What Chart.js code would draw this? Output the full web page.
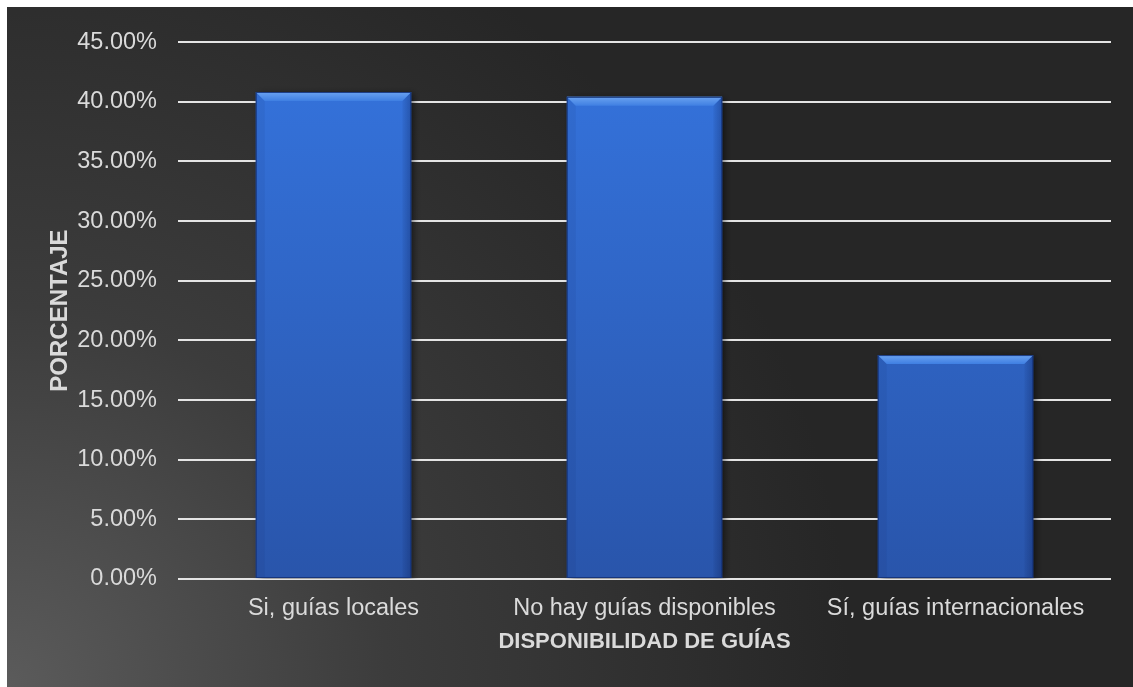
<!DOCTYPE html>
<html lang="es">
<head>
<meta charset="utf-8">
<title>Disponibilidad de guías</title>
<script src="https://cdn.jsdelivr.net/npm/chart.js@4.4.1/dist/chart.umd.min.js"></script>
<style>
    html, body { margin: 0; padding: 0; background: #ffffff; }
    #wrap { position: absolute; left: 7px; top: 7px; width: 1126px; height: 680px; }
</style>
</head>
<body>
<div id="wrap"><canvas id="myChart"></canvas></div>
<script>
// datos de la encuesta
const categorias = ["Si, guías locales", "No hay guías disponibles", "Sí, guías internacionales"];
const porcentajes = [40.82, 40.41, 18.77];
const ticksY = [0, 5, 10, 15, 20, 25, 30, 35, 40, 45];

const tituloX = "DISPONIBILIDAD DE GUÍAS";
const tituloY = "PORCENTAJE";

const fuente = "'Liberation Sans', Arial, sans-serif";
const colorTexto = "#dadada";

// fondo oscuro con degradado más claro abajo a la izquierda
const fondoPlugin = {
    id: "fondo",
    beforeDraw(chart) {
        const { ctx, width, height } = chart;
        const g = ctx.createRadialGradient(0, height, 0, 0, height, width * 0.75);
        g.addColorStop(0, "#5b5b5b");
        g.addColorStop(0.45, "#3c3c3c");
        g.addColorStop(1, "#262626");
        ctx.save();
        ctx.fillStyle = g;
        ctx.fillRect(0, 0, width, height);
        ctx.restore();
    }
};

// sombra de las barras
const sombraPlugin = {
    id: "sombra",
    beforeDatasetsDraw(chart) {
        const ctx = chart.ctx;
        ctx.save();
        ctx.shadowColor = "rgba(0,0,0,0.55)";
        ctx.shadowBlur = 7;
        ctx.shadowOffsetX = 3;
        ctx.shadowOffsetY = 1;
    },
    afterDatasetsDraw(chart) {
        chart.ctx.restore();
    }
};

// bisel en los bordes de cada barra
const biselPlugin = {
    id: "bisel",
    afterDatasetsDraw(chart) {
        const ctx = chart.ctx;
        const b = 9;
        chart.getDatasetMeta(0).data.forEach(bar => {
            const { x, y, base, width } = bar.getProps(["x", "y", "base", "width"], true);
            const l = x - width / 2, r = x + width / 2;
            ctx.save();
            // lado izquierdo
            ctx.fillStyle = "rgba(10,30,90,0.07)";
            ctx.beginPath();
            ctx.moveTo(l, y); ctx.lineTo(l + b, y + b); ctx.lineTo(l + b, base); ctx.lineTo(l, base);
            ctx.closePath(); ctx.fill();
            // lado derecho
            const gr = ctx.createLinearGradient(r - b, 0, r, 0);
            gr.addColorStop(0, "rgba(5,20,70,0.05)");
            gr.addColorStop(1, "rgba(5,20,70,0.3)");
            ctx.fillStyle = gr;
            ctx.beginPath();
            ctx.moveTo(r, y); ctx.lineTo(r - b, y + b); ctx.lineTo(r - b, base); ctx.lineTo(r, base);
            ctx.closePath(); ctx.fill();
            // borde superior claro
            const gt = ctx.createLinearGradient(0, y, 0, y + b);
            gt.addColorStop(0, "#6aa2f0");
            gt.addColorStop(1, "#3f7fe2");
            ctx.fillStyle = gt;
            ctx.beginPath();
            ctx.moveTo(l, y); ctx.lineTo(r, y); ctx.lineTo(r - b, y + b); ctx.lineTo(l + b, y + b);
            ctx.closePath(); ctx.fill();
            // contorno
            ctx.strokeStyle = "rgba(20,50,120,0.9)";
            ctx.lineWidth = 1;
            ctx.strokeRect(l + 0.5, y + 0.5, width - 1, base - y - 1);
            ctx.restore();
        });
    }
};

const ctx = document.getElementById("myChart").getContext("2d");
new Chart(ctx, {
    type: "bar",
    data: {
        labels: categorias,
        datasets: [{
            label: tituloY,
            data: porcentajes,
            backgroundColor: (c) => {
                const area = c.chart.chartArea;
                if (!area) return "#2f66c8";
                const g = c.chart.ctx.createLinearGradient(0, area.bottom, 0, area.top);
                g.addColorStop(0, "#2955ab");
                g.addColorStop(1, "#3574de");
                return g;
            },
            borderWidth: 0,
            categoryPercentage: 1,
            barPercentage: 0.5
        }]
    },
    options: {
        responsive: true,
        maintainAspectRatio: false,
        animation: false,
        layout: { padding: { left: 0, right: 22, top: 31, bottom: 0 } },
        plugins: {
            legend: { display: false },
            tooltip: { enabled: false }
        },
        scales: {
            x: {
                grid: { display: false, drawTicks: false },
                border: { display: false },
                ticks: {
                    color: colorTexto,
                    font: { family: fuente, size: 23.5 },
                    padding: 15,
                    maxRotation: 0
                },
                title: {
                    display: true,
                    text: tituloX,
                    color: colorTexto,
                    font: { family: fuente, size: 22, weight: "bold" },
                    padding: { top: 0, bottom: 32 }
                },
                afterFit(scale) { scale.height = 108; }
            },
            y: {
                min: 0,
                max: 45,
                afterBuildTicks(scale) {
                    scale.ticks = ticksY.map(v => ({ value: v }));
                },
                grid: { color: "#e4e4e4", lineWidth: 2, drawTicks: false },
                border: { display: false },
                ticks: {
                    color: colorTexto,
                    font: { family: fuente, size: 23.5 },
                    padding: 21,
                    callback: (v) => Number(v).toFixed(2) + "%"
                },
                title: {
                    display: true,
                    text: tituloY,
                    color: colorTexto,
                    font: { family: fuente, size: 24, weight: "bold" },
                    padding: { top: 39, bottom: 0 }
                },
                afterFit(scale) { scale.width = 171; }
            }
        }
    },
    plugins: [fondoPlugin, sombraPlugin, biselPlugin]
});
</script>
</body>
</html>
